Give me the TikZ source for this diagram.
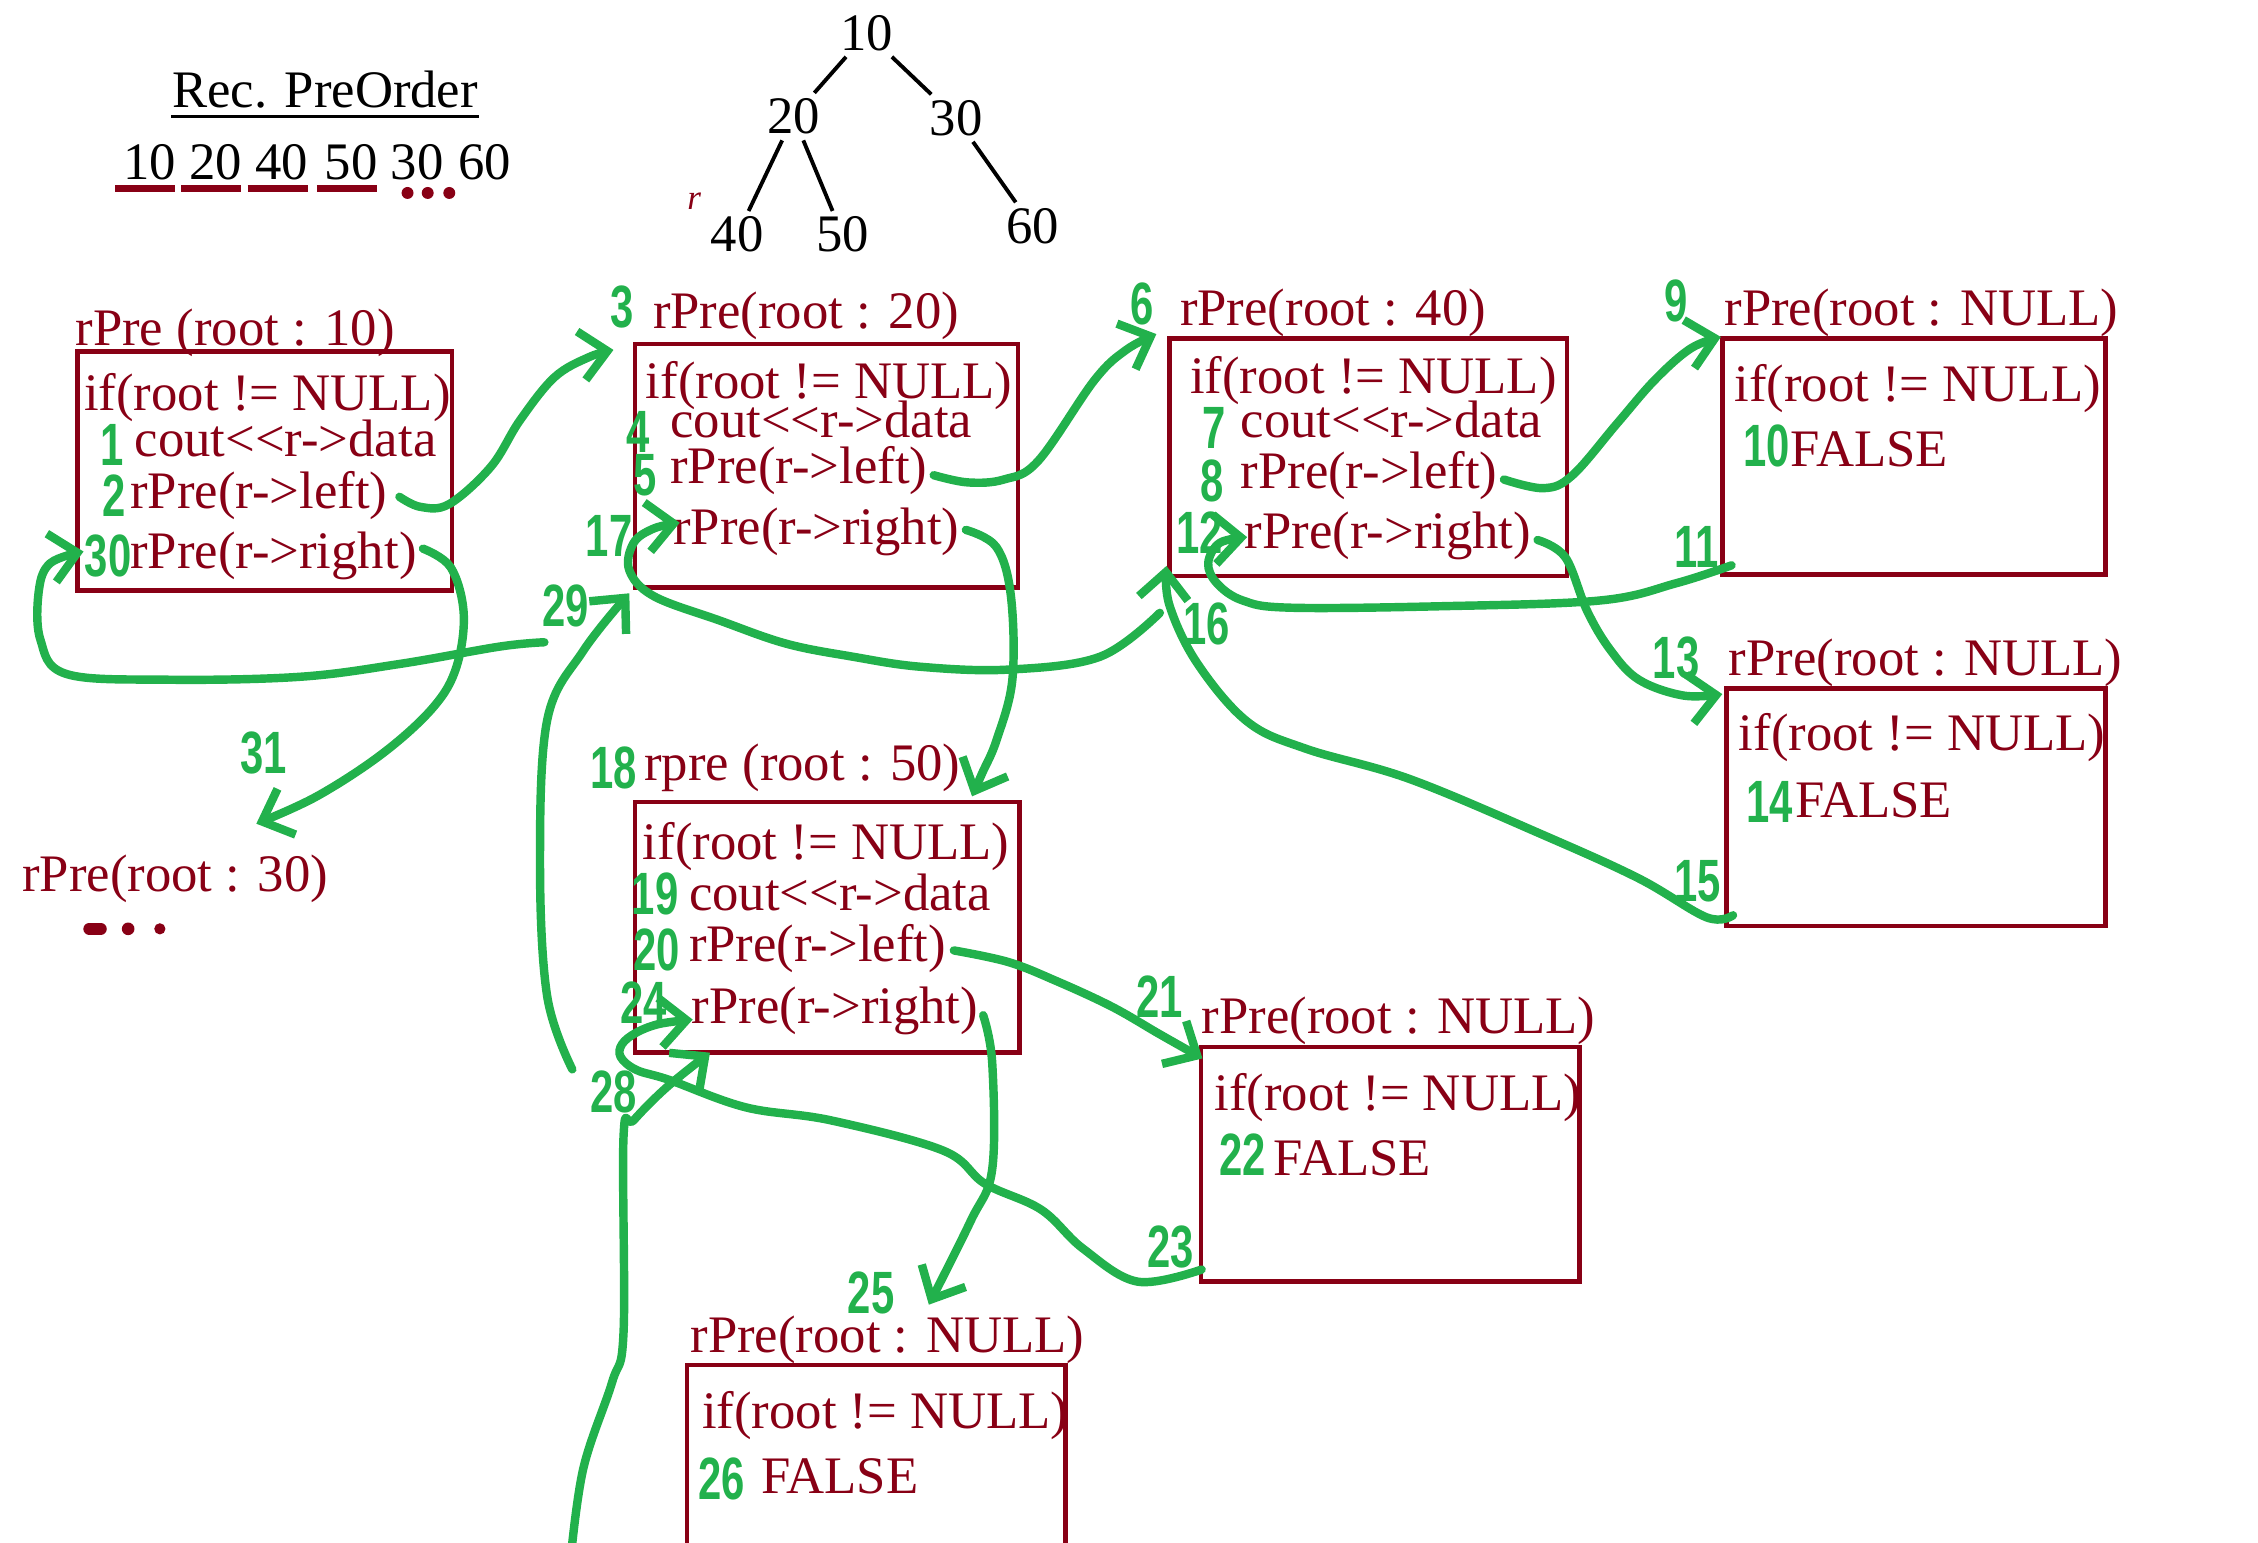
\documentclass[tikz,border=0pt]{standalone}
\usepackage{fontspec}
\setmainfont{Liberation Serif}[Ligatures=TeXOff]
\newfontfamily\penfont{Liberation Sans}
\usepackage{graphicx}
\usepackage{tikz}
\usetikzlibrary{arrows.meta,calc,fit}
\definecolor{codered}{RGB}{136,0,21}
\definecolor{pengreen}{RGB}{34,177,76}

\begin{document}
\begin{tikzpicture}[x=0.0144cm, y=-0.0144cm,
    code/.style={font=\fontsize{15}{18}\selectfont, text=codered, inner sep=0pt, anchor=base west},
    treenum/.style={font=\fontsize{15}{18}\selectfont, inner sep=1.5pt},
    frame/.style={draw=codered, line width=1.3pt, inner sep=0pt},
    pen/.style={draw=pengreen, line width=2.4pt, line cap=round, line join=round},
    penarrow/.style={pen, -{Straight Barb[length=7.5pt, width=14pt]}},
    tag/.style={font=\penfont\bfseries\fontsize{17}{17}\selectfont, text=pengreen, inner sep=0pt}]

    \useasboundingbox (0,0) rectangle (1568,1071);
    \clip (0,0) rectangle (1568,1071);

    % Title and traversal order
    \node[code, text=black] (title) at (119,75) {Rec. PreOrder};
    \draw[line width=1pt] ($(title.base west)+(0,6)$) -- ($(title.base east)+(0,6)$);
    \foreach \v/\x [count=\i] in {10/85,20/131,40/177,50/225,30/271,60/318}
        \node[code, text=black] (ord\i) at (\x,125) {\v};
    \foreach \i in {1,...,4}
        \draw[codered, line width=1.8pt] ($(ord\i.base west)+(-5,6)$) -- ($(ord\i.base east)+(-1,6)$);
    \foreach \x in {283,297,312}
        \fill[codered] (\x,134) circle (1.7pt);

    % Tree
    \node[treenum] (n10) at (602,23) {10};
    \node[treenum] (n20) at (551,81) {20};
    \node[treenum] (n30) at (664,82) {30};
    \node[treenum] (n40) at (512,163) {40};
    \node[treenum] (n50) at (585,163) {50};
    \node[treenum] (n60) at (717,157) {60};
    \foreach \a/\b in {n10/n20,n10/n30,n20/n40,n20/n50,n30/n60}
        \draw[line width=1.1pt] (\a) -- (\b);
    \node[font=\itshape\fontsize{10}{10}\selectfont, text=codered] (rmark) at (482,140) {r};

    % rPre(root : 10)
    \node[frame, fit={(54,244) (314,410)}] (boxA) {};
    \node[code] (aHead) at (52,240) {rPre (root : 10)};
    \node[code] (aIf) at (58,285) {if(root != NULL)};
    \node[code] (aCout) at (93,317) {cout<<r->data};
    \node[code] (aLeft) at (90,353) {rPre(r->left)};
    \node[code] (aRight) at (90,395) {rPre(r->right)};

    % rPre(root : 20)
    \node[frame, fit={(441,239) (707,408)}] (boxB) {};
    \node[code] (bHead) at (453,228) {rPre(root : 20)};
    \node[code] (bIf) at (448,277) {if(root != NULL)};
    \node[code] (bCout) at (465,304) {cout<<r->data};
    \node[code] (bLeft) at (465,336) {rPre(r->left)};
    \node[code] (bRight) at (467,378) {rPre(r->right)};

    % rPre(root : 40)
    \node[frame, fit={(812,235) (1088,400)}] (boxC) {};
    \node[code] (cHead) at (819,226) {rPre(root : 40)};
    \node[code] (cIf) at (826,273) {if(root != NULL)};
    \node[code] (cCout) at (861,304) {cout<<r->data};
    \node[code] (cLeft) at (861,339) {rPre(r->left)};
    \node[code] (cRight) at (864,381) {rPre(r->right)};

    % NULL calls of 40
    \node[frame, fit={(1196,235) (1462,399)}] (boxD) {};
    \node[code] (dHead) at (1197,226) {rPre(root : NULL)};
    \node[code] (dIf) at (1204,279) {if(root != NULL)};
    \node[code] (dFalse) at (1243,324) {FALSE};

    \node[frame, fit={(1199,478) (1462,643)}] (boxE) {};
    \node[code] (eHead) at (1200,469) {rPre(root : NULL)};
    \node[code] (eIf) at (1207,521) {if(root != NULL)};
    \node[code] (eFalse) at (1246,568) {FALSE};

    % rpre (root : 50)
    \node[frame, fit={(441,557) (708,731)}] (boxF) {};
    \node[code] (fHead) at (447,542) {rpre (root : 50)};
    \node[code] (fIf) at (446,597) {if(root != NULL)};
    \node[code] (fCout) at (478,632) {cout<<r->data};
    \node[code] (fLeft) at (478,668) {rPre(r->left)};
    \node[code] (fRight) at (480,711) {rPre(r->right)};

    % NULL calls of 50
    \node[frame, fit={(834,727) (1097,890)}] (boxG) {};
    \node[code] (gHead) at (834,718) {rPre(root : NULL)};
    \node[code] (gIf) at (843,771) {if(root != NULL)};
    \node[code] (gFalse) at (884,816) {FALSE};

    \node[frame, fit={(477,948) (740,1100)}] (boxH) {};
    \node[code] (hHead) at (479,939) {rPre(root : NULL)};
    \node[code] (hIf) at (487,992) {if(root != NULL)};
    \node[code] (hFalse) at (528,1037) {FALSE};

    % rPre(root : 30)
    \node[code] (thirty) at (15,619) {rPre(root : 30)};
    \draw[codered, line width=3.4pt, line cap=round] (62,645) -- (70,645);
    \fill[codered] (89,645) circle (1.8pt) (111,645) circle (1.6pt);

    % Start points of the pen strokes
    \coordinate (s2) at ([shift={(8,-8)}]aLeft.base east);
    \coordinate (s5) at ([shift={(4,-6)}]bLeft.base east);
    \coordinate (s8) at ([shift={(4,-6)}]cLeft.base east);
    \coordinate (s11) at ([shift={(8,-8)}]boxD.south west);
    \coordinate (s12) at ([shift={(4,-6)}]cRight.base east);
    \coordinate (s15) at ([shift={(6,-9)}]boxE.south west);
    \coordinate (s16) at ([shift={(-5,24)}]boxC.south west);
    \coordinate (s17) at ([shift={(4,-10)}]bRight.base east);
    \coordinate (s20) at ([shift={(5,-8)}]fLeft.base east);
    \coordinate (s23) at ([shift={(2,-10)}]boxG.south west);
    \coordinate (s24) at ([shift={(3,-6)}]fRight.base east);
    \coordinate (s27) at (396,1085);
    \coordinate (s28) at ([shift={(-42,10)}]boxF.south west);
    \coordinate (s29) at (378,446);
    \coordinate (s30) at ([shift={(4,-14)}]aRight.base east);

    % Pen strokes
    \draw[penarrow] plot[smooth, tension=0.6] coordinates {(s2) (292,352) (312,350) (341,324) (361,292) (385,262) (409,248) (426,243)};
    \draw[penarrow] plot[smooth, tension=0.6] coordinates {(s5) (672,335) (697,333) (721,320) (760,264) (782,243) (803,232)};
    \draw[penarrow] plot[smooth, tension=0.6] coordinates {(s8) (1072,339) (1092,330) (1123,294) (1149,264) (1174,242) (1195,234)};
    \draw[penarrow] plot[smooth, tension=0.6] coordinates {(s11) (1164,405) (1111,417) (1000,421) (896,422) (863,417) (845,405) (839,391) (847,377) (866,373)};
    \draw[penarrow] plot[smooth, tension=0.6] coordinates {(s12) (1087,387) (1102,424) (1118,451) (1138,472) (1169,483) (1196,482)};
    \draw[penarrow] plot[smooth, tension=0.6] coordinates {(s15) (1185,637) (1138,610) (1072,580) (979,541) (907,520) (866,501) (831,460) (812,420) (810,393)};
    \draw[penarrow] plot[smooth, tension=0.6] coordinates {(s16) (764,456) (700,465) (639,463) (592,456) (546,447) (500,431) (454,414) (437,396) (440,377) (454,367) (472,363)};
    \draw[penarrow] plot[smooth, tension=0.6] coordinates {(s17) (692,380) (702,414) (703,472) (692,514) (682,537) (675,553)};
    \draw[penarrow] plot[smooth, tension=0.6] coordinates {(s20) (700,668) (733,681) (772,699) (805,718) (835,735)};
    \draw[penarrow] plot[smooth, tension=0.6] coordinates {(s23) (790,890) (752,867) (723,840) (684,822) (655,799) (577,778) (518,769) (465,750) (442,743) (431,734) (432,725) (442,717) (458,711) (481,708)};
    \draw[penarrow] plot[smooth, tension=0.6] coordinates {(s24) (689,738) (689,812) (674,848) (645,906)};
    \draw[penarrow] plot[smooth, tension=0.6] coordinates {(s27) (405,1020) (425,960) (433,925) (433,789) (440,778) (463,755) (493,731)};
    \draw[penarrow] plot[smooth, tension=0.6] coordinates {(s28) (380,692) (375,600) (380,500) (405,452) (437,412)};
    \draw[penarrow] plot[smooth, tension=0.6] coordinates {(s29) (347,449) (278,461) (208,470) (116,472) (46,468) (28,444) (27,410) (35,391) (58,383)};
    \draw[penarrow] plot[smooth, tension=0.6] coordinates {(s30) (313,394) (322,426) (317,463) (301,491) (266,523) (220,553) (178,572)};

    % Step numbers
    \foreach \n/\x/\y in {1/78/309, 2/79/344, 30/75/386, 3/432/213, 4/443/300, 5/448/330,
        17/423/372, 29/393/421, 6/793/211, 7/843/297, 8/842/334, 12/833/370, 16/838/433,
        9/1164/209, 10/1227/310, 11/1178/380, 13/1164/457, 14/1229/557, 15/1179/612,
        18/426/533, 19/455/621, 20/456/660, 24/447/696, 28/426/758, 21/805/692,
        22/863/802, 23/813/866, 25/605/898, 26/501/1027, 31/183/523}
        \node[tag] (tag\n) at (\x,\y) {\scalebox{0.7}[1]{\n}};
\end{tikzpicture}
\end{document}
